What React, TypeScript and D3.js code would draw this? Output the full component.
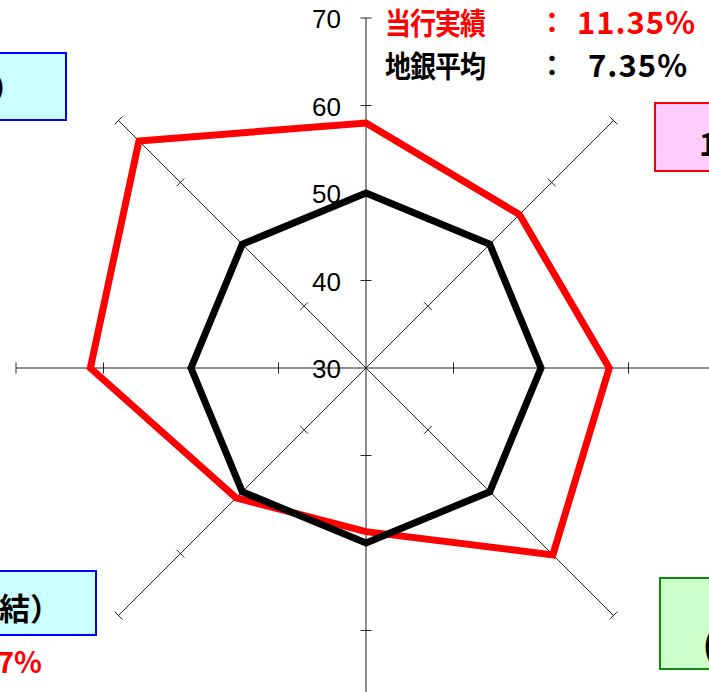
import React from "react";
import * as d3 from "d3";

// axes clockwise from the top
const categories = ["項目A", "項目B", "項目C", "項目D", "項目E", "項目F", "項目G", "項目H"];
const ownValues = [58.0, 54.8, 57.8, 60.2, 48.7, 51.0, 61.5, 66.7];
const avgValues = [50, 50, 50, 50, 50, 50, 50, 50];
const tickValues = [30, 40, 50, 60, 70];
const ownLabel = "当行実績";
const ownRate = "11.35%";
const avgLabel = "地銀平均";
const avgRate = "7.35%";

const W = 709;
const H = 692;
const cx = 366;
const cy = 368;

const App = () => {
  const r = d3.scaleLinear().domain([30, 70]).range([0, 350]);
  const angle = d3
    .scaleLinear()
    .domain([0, categories.length])
    .range([0, 2 * Math.PI]);

  const pt = (i: number, v: number) => {
    const a = angle(i);
    return [cx + r(v) * Math.sin(a), cy - r(v) * Math.cos(a)];
  };

  const radial = d3
    .lineRadial<number>()
    .angle((_, i) => angle(i))
    .radius((d) => r(d))
    .curve(d3.curveLinearClosed);

  const jp = "'Noto Sans CJK JP', sans-serif";

  // one legend row: label chars placed one by one (a bit taller than wide), colon, then the rate
  const legendRow = (label: string, rate: string, y: number, rateX: number, rateW: number, color: string) => (
    <g fill={color} fontFamily={jp} fontWeight="bold">
      {label.split("").map((ch, i) => (
        <text key={i} transform={`translate(${385 + i * 25},${y + 1}) scale(1,1.14)`} fontSize={26}>
          {ch}
        </text>
      ))}
      <text x={552} y={y} textAnchor="middle" fontSize={28}>
        ：
      </text>
      <text x={rateX} y={y + 1} fontSize={31} textLength={rateW} lengthAdjust="spacing">
        {rate}
      </text>
    </g>
  );

  return (
    <svg
      width={W}
      height={H}
      style={{ position: "absolute", left: 0, top: 0, display: "block", background: "#fff" }}
    >
      {/* category boxes, cut off by the frame */}
      <rect x={-10} y={53} width={76} height={67} fill="#ccffff" stroke="#0000ff" strokeWidth={2} />
      <text x={23} y={99} textAnchor="end" fontFamily={jp} fontWeight="bold" fontSize={31}>
        （単体）
      </text>

      <rect x={655} y={103} width={70} height={68} fill="#ffccff" stroke="#ff0000" strokeWidth={2} />
      <text x={699} y={156} fontFamily={jp} fontWeight="bold" fontSize={31}>
        1株当たり
      </text>

      <rect x={-10} y={571} width={106} height={64} fill="#ccffff" stroke="#0000ff" strokeWidth={2} />
      <text x={61} y={620} textAnchor="end" fontFamily={jp} fontWeight="bold" fontSize={31}>
        （連結）
      </text>
      <text x={42} y={673} textAnchor="end" fontFamily={jp} fontWeight="bold" fontSize={29} fill="#ff0000">
        8.27%
      </text>

      <rect x={660} y={578} width={70} height={91} fill="#ccffcc" stroke="#108a10" strokeWidth={2} />
      <text x={703} y={657} fontFamily={jp} fontWeight="bold" fontSize={31}>
        (連結)
      </text>

      {/* axes */}
      <g stroke="#222" strokeWidth={1}>
        {categories.map((c, i) => {
          const [x2, y2] = pt(i, 70);
          const a = angle(i);
          return (
            <g key={c}>
              <line x1={cx} y1={cy} x2={x2} y2={y2} />
              {tickValues.slice(1).map((t) => {
                const [tx, ty] = pt(i, t);
                const dx = 5.5 * Math.cos(a);
                const dy = 5.5 * Math.sin(a);
                return <line key={t} x1={tx - dx} y1={ty - dy} x2={tx + dx} y2={ty + dy} />;
              })}
            </g>
          );
        })}
      </g>

      {/* tick labels on the top axis */}
      {tickValues.map((t) => (
        <text
          key={t}
          x={cx - 25}
          y={cy - r(t) + 10}
          textAnchor="end"
          fontFamily="'Liberation Sans', Arial, sans-serif"
          fontSize={26}
          fill="#000"
        >
          {t}
        </text>
      ))}

      {/* series */}
      <path
        d={radial(ownValues) ?? ""}
        transform={`translate(${cx},${cy})`}
        fill="none"
        stroke="#ff0000"
        strokeWidth={7}
        strokeLinejoin="miter"
      />
      <path
        d={radial(avgValues) ?? ""}
        transform={`translate(${cx},${cy})`}
        fill="none"
        stroke="#000"
        strokeWidth={7}
        strokeLinejoin="miter"
      />

      {/* legend text */}
      {legendRow(ownLabel, ownRate, 33, 577, 118, "#ff0000")}
      {legendRow(avgLabel, avgRate, 76, 588, 99, "#000")}
    </svg>
  );
};

export default App;
